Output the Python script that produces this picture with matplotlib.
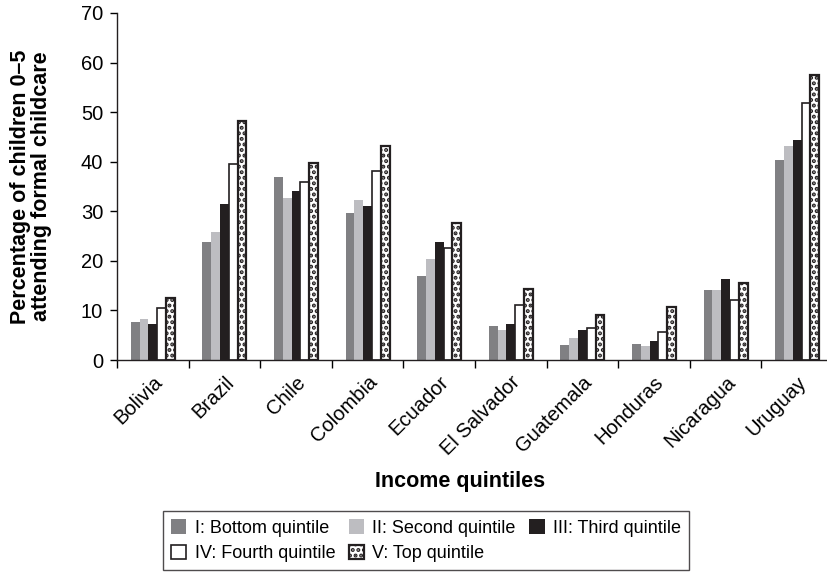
import matplotlib
matplotlib.use("Agg")
import matplotlib.pyplot as plt
import numpy as np

plt.rcParams['font.family'] = ['Liberation Sans', 'DejaVu Sans']
plt.rcParams['hatch.linewidth'] = 2.0

countries = ["Bolivia", "Brazil", "Chile", "Colombia", "Ecuador", "El Salvador",
             "Guatemala", "Honduras", "Nicaragua", "Uruguay"]
series_names = ["I: Bottom quintile", "II: Second quintile", "III: Third quintile",
                "IV: Fourth quintile", "V: Top quintile"]
q1 = [7.6, 23.8, 36.9, 29.7, 16.9, 6.8, 3.1, 3.3, 14.2, 40.3]
q2 = [8.2, 25.8, 32.7, 32.3, 20.3, 6.1, 4.4, 2.9, 14.1, 43.1]
q3 = [7.2, 31.4, 34.1, 31.0, 23.9, 7.3, 6.0, 3.9, 16.4, 44.4]
q4 = [10.5, 39.6, 35.9, 38.2, 22.5, 11.1, 6.5, 5.6, 12.1, 51.9]
q5 = [12.5, 48.2, 39.8, 43.2, 27.6, 14.4, 9.1, 10.6, 15.6, 57.4]
yticks = [0, 10, 20, 30, 40, 50, 60, 70]

styles = [
    dict(color="#808083", edgecolor="none", linewidth=0),
    dict(color="#bdbdc1", edgecolor="none", linewidth=0),
    dict(color="#231f20", edgecolor="none", linewidth=0),
    dict(facecolor="white", edgecolor="#231f20", linewidth=1.2),
    dict(facecolor="white", edgecolor="#231f20", linewidth=1.6, hatch="..."),
]

fig = plt.figure(figsize=(8.28, 5.84), dpi=100)
ax = fig.add_axes([117 / 828, 1 - 360 / 584, (828 - 117) / 828, 347 / 584])

x = np.arange(len(countries)) + 0.5
bw = 0.123
handles = []
for k, (vals, st) in enumerate(zip([q1, q2, q3, q4, q5], styles)):
    b = ax.bar(x + (k - 2) * bw, vals, width=bw, label=series_names[k], **st)
    handles.append(b)

ax.set_xlim(0, 711 / 71.6)
ax.set_ylim(0, 70)
ax.set_yticks(yticks)
ax.tick_params(axis='y', labelsize=14.5, length=5, width=1, direction='out', pad=5)

ax.set_xticks(np.arange(0, len(countries)))
ax.set_xticklabels([])
ax.tick_params(axis='x', which='major', length=6, width=1, direction='out')
ax.set_xticks(x, minor=True)
ax.set_xticklabels(countries, minor=True, rotation=45, ha='right', va='top',
                   rotation_mode='anchor', fontsize=14.5)
ax.tick_params(axis='x', which='minor', length=0, pad=9)

for s in ['top', 'right']:
    ax.spines[s].set_visible(False)
for s in ['left', 'bottom']:
    ax.spines[s].set_linewidth(1)
    ax.spines[s].set_color('#231f20')

ax.set_ylabel("Percentage of children 0\u20135\nattending formal childcare",
              fontsize=15.5, fontweight='bold', linespacing=1.0)
ax.yaxis.set_label_coords(-0.091, 0.5)
fig.text(460 / 828, 1 - 481 / 584, "Income quintiles", fontsize=15.5,
         fontweight='bold', ha='center', va='center')

order = [0, 3, 1, 4, 2]
leg = fig.legend([handles[i] for i in order], [series_names[i] for i in order],
                 ncol=3, loc='upper left', bbox_to_anchor=(163 / 828, 1 - 511 / 584),
                 frameon=True, fancybox=False, edgecolor='#231f20', fontsize=13,
                 handlelength=0.85, handleheight=0.85, handletextpad=0.45,
                 columnspacing=0.75, labelspacing=0.45, borderpad=0.45,
                 borderaxespad=0)
leg.get_frame().set_linewidth(1)

fig.savefig("out.png", dpi=100)
